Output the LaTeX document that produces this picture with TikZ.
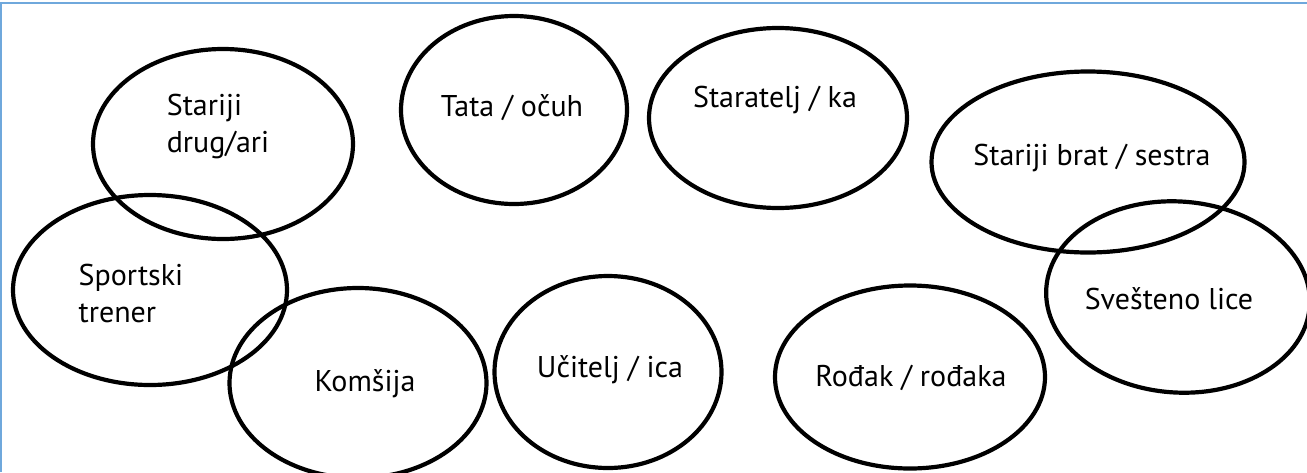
\documentclass[tikz,border=0pt]{standalone}
\usepackage{fontspec}
\setmainfont{PT Sans}
\usetikzlibrary{shapes.geometric}
\definecolor{framebl}{HTML}{6FA8DC}
\tikzset{
  bubble/.style={draw=black, line width=4.2pt, ellipse, inner sep=0pt},
  lbl/.style={font=\fontsize{30}{37}\selectfont, align=left, inner sep=0pt}
}
\begin{document}
\begin{tikzpicture}[x=1pt,y=-1pt]
\useasboundingbox (0,0) rectangle (1307,472);
\fill[white] (0,0) rectangle (1307,472);
\draw[framebl, line width=2pt] (1,472) -- (1,2.5) -- (1307,2.5);

% top row
\node[bubble, minimum width=260pt, minimum height=190pt] (drug) at (223,144) {};
\node[bubble, minimum width=226pt, minimum height=188pt] (tata) at (514,110) {};
\node[bubble, minimum width=258pt, minimum height=180pt] (staratelj) at (778,118) {};
\node[bubble, minimum width=313pt, minimum height=181pt] (brat) at (1088,162) {};

% bottom row
\node[bubble, minimum width=274pt, minimum height=190pt] (trener) at (150,290) {};
\node[bubble, minimum width=257pt, minimum height=190pt] (komsija) at (358,383) {};
\node[bubble, minimum width=227pt, minimum height=192pt] (ucitelj) at (608,372) {};
\node[bubble, minimum width=270pt, minimum height=183pt] (rodjak) at (910,377) {};
\node[bubble, minimum width=264pt, minimum height=191pt, rotate=-4] (svestenik) at (1178,297) {};

% labels
\node[lbl] (tdrug) at (218,126) {Stariji\\drug/ari};
\node[lbl] (ttata) at (512,108) {Tata / očuh};
\node[lbl] (tstaratelj) at (775,100) {Staratelj / ka};
\node[lbl] (tbrat) at (1092,158) {Stariji brat / sestra};
\node[lbl] (ttrener) at (131,293) {Sportski\\trener};
\node[lbl] (tkomsija) at (365,384) {Komšija};
\node[lbl] (tucitelj) at (610,370) {Učitelj / ica};
\node[lbl] (trodjak) at (911,378) {Rođak / rođaka};
\node[lbl] (tsvestenik) at (1169,299) {Svešteno lice};
\end{tikzpicture}
\end{document}
